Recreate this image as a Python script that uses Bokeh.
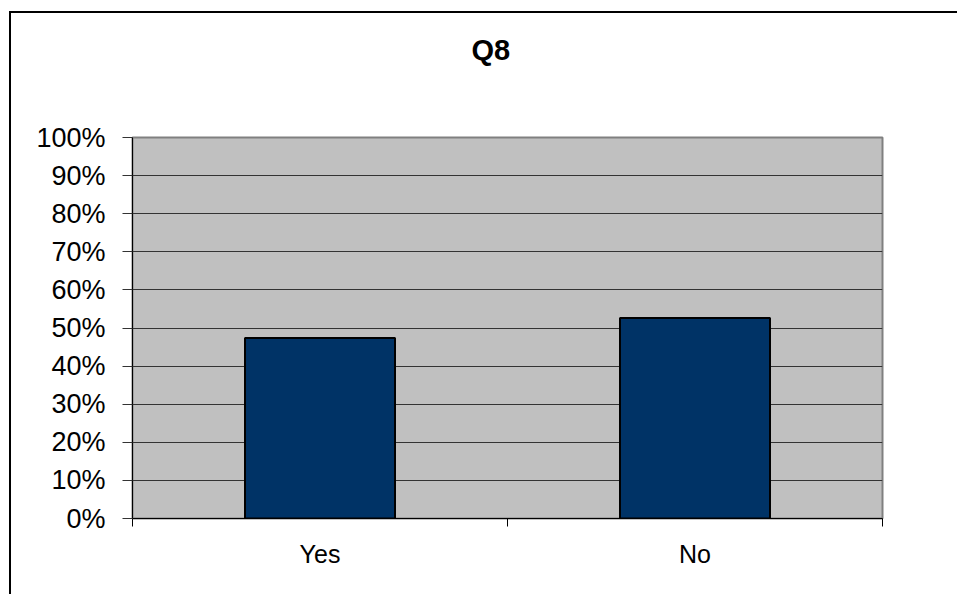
from bokeh.plotting import figure
from bokeh.models import Range1d, FixedTicker, PrintfTickFormatter, ColumnDataSource, Title
from bokeh.embed import file_html
from bokeh.resources import INLINE

# Survey question Q8: share of responses per answer
title_text = "Q8"
categories = ["Yes", "No"]
shares = [47.4, 52.6]          # percent of respondents
y_ticks = [0, 10, 20, 30, 40, 50, 60, 70, 80, 90, 100]

FONT = "Liberation Sans"

positions = [i + 0.5 for i in range(len(categories))]
src = ColumnDataSource(dict(x=positions, top=shares, cat=categories))

p = figure(width=957, height=594, output_backend="svg", toolbar_location=None,
           x_range=Range1d(0, len(categories)), y_range=Range1d(0, 100),
           min_border_left=132, min_border_right=75,
           min_border_top=137, min_border_bottom=76)

# transparent canvas border so the page background (with the chart-area
# border lines drawn in CSS) shows around the plot frame
p.border_fill_color = None
p.styles = {
    "background": ("linear-gradient(#000,#000) 9px 11px / 2px 100% no-repeat, "
                   "linear-gradient(#000,#000) 9px 11px / 100% 2px no-repeat, "
                   "#ffffff"),
}

p.background_fill_color = "#C0C0C0"
p.outline_line_color = "#808080"
p.outline_line_width = 2

# empty spacer between the plot frame and the title
p.add_layout(Title(text=" ", text_font_size="1px", standoff=69), "above")

# chart title
p.title.text = title_text
p.title.align = "left"
p.title.offset = 339
p.title.standoff = 0
p.title.text_font = FONT
p.title.text_font_size = "29px"
p.title.text_font_style = "bold"
p.title.text_color = "black"

# horizontal gridlines
p.xgrid.visible = False
p.ygrid.ticker = FixedTicker(ticks=y_ticks)
p.ygrid.grid_line_color = "#333333"
p.ygrid.grid_line_width = 1

# bars
p.vbar(x="x", top="top", width=0.4, bottom=0, source=src,
       fill_color="#003366", line_color="black", line_width=2)

# y axis with percent labels
ya = p.yaxis[0]
ya.ticker = FixedTicker(ticks=y_ticks, minor_ticks=[])
ya.formatter = PrintfTickFormatter(format="%d%%")
ya.axis_line_color = "black"
ya.major_tick_out = 10
ya.major_tick_in = 0
ya.major_tick_line_color = "#333333"
ya.minor_tick_line_color = None
ya.major_label_standoff = 17
ya.major_label_text_font = FONT
ya.major_label_text_font_size = "27px"
ya.major_label_text_color = "black"

# x axis: labels at category centres, tick marks at category boundaries
xa = p.xaxis[0]
xa.ticker = FixedTicker(ticks=positions,
                        minor_ticks=list(range(len(categories) + 1)))
xa.major_label_overrides = {pos: cat for pos, cat in zip(positions, categories)}
xa.axis_line_color = "black"
xa.major_tick_out = 0
xa.major_tick_in = 0
xa.major_tick_line_color = None
xa.minor_tick_out = 8
xa.minor_tick_in = 0
xa.minor_tick_line_color = "black"
xa.major_label_standoff = 13
xa.major_label_text_font = FONT
xa.major_label_text_font_size = "25px"
xa.major_label_text_color = "black"

open("out.html", "w").write(file_html(p, INLINE))
